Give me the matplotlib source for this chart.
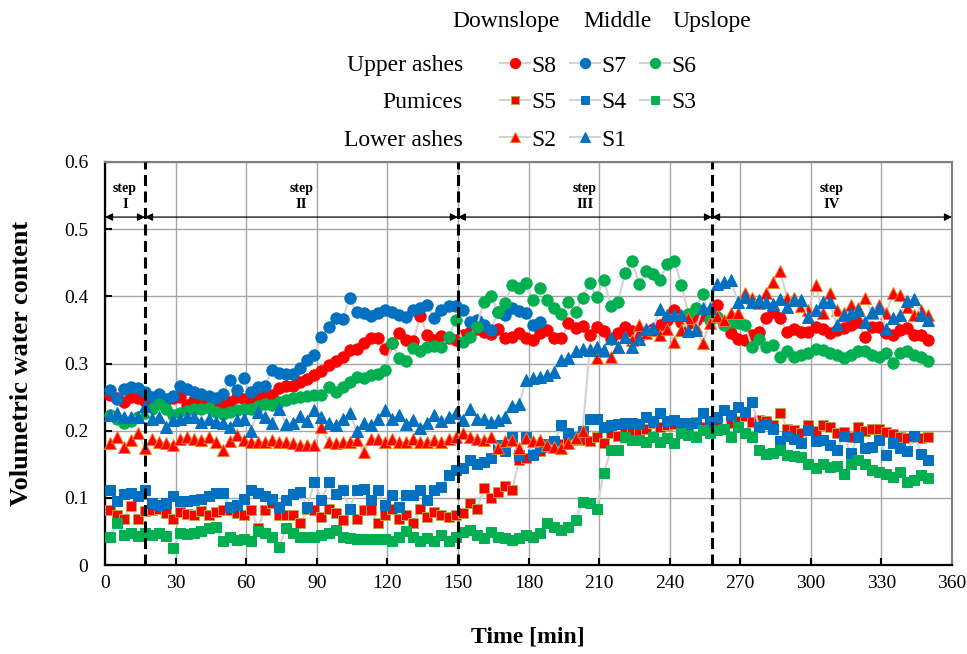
import numpy as np
import matplotlib
matplotlib.use("Agg")
import matplotlib.pyplot as plt
from matplotlib.lines import Line2D

plt.rcParams['font.family'] = ['Liberation Serif', 'DejaVu Serif']

# sampling times (min), one reading every 3 minutes
minutes = np.arange(2, 351, 3)

# upper ashes (circles)
s8 = [0.253, 0.248, 0.243, 0.250, 0.248, 0.244, 0.240, 0.242, 0.245, 0.248,
      0.250, 0.238, 0.245, 0.248, 0.238, 0.240, 0.239, 0.243, 0.250, 0.247,
      0.245, 0.253, 0.253, 0.253, 0.264, 0.266, 0.266, 0.273, 0.277, 0.283,
      0.289, 0.298, 0.303, 0.310, 0.320, 0.322, 0.330, 0.338, 0.338, 0.322,
      0.330, 0.345, 0.335, 0.333, 0.371, 0.342, 0.335, 0.341, 0.338, 0.335,
      0.342, 0.347, 0.352, 0.347, 0.344, 0.352, 0.338, 0.340, 0.345, 0.338,
      0.335, 0.345, 0.350, 0.338, 0.338, 0.360, 0.353, 0.356, 0.342, 0.354,
      0.348, 0.337, 0.345, 0.354, 0.349, 0.340, 0.347, 0.352, 0.357, 0.365,
      0.380, 0.362, 0.358, 0.365, 0.372, 0.374, 0.387, 0.360, 0.345, 0.336,
      0.335, 0.342, 0.347, 0.367, 0.377, 0.367, 0.347, 0.352, 0.347, 0.347,
      0.355, 0.352, 0.345, 0.350, 0.353, 0.357, 0.362, 0.340, 0.355, 0.355,
      0.345, 0.342, 0.350, 0.353, 0.342, 0.342, 0.335]
s7 = [0.260, 0.247, 0.262, 0.265, 0.263, 0.258, 0.250, 0.255, 0.247, 0.252,
      0.267, 0.262, 0.258, 0.255, 0.252, 0.249, 0.254, 0.275, 0.260, 0.278,
      0.258, 0.265, 0.267, 0.290, 0.286, 0.285, 0.284, 0.294, 0.305, 0.312,
      0.339, 0.355, 0.367, 0.366, 0.398, 0.377, 0.375, 0.371, 0.375, 0.380,
      0.377, 0.372, 0.369, 0.380, 0.382, 0.387, 0.367, 0.380, 0.385, 0.386,
      0.380, 0.362, 0.365, 0.358, 0.350, 0.377, 0.372, 0.382, 0.378, 0.375,
      0.357, 0.362] + [np.nan] * 55
s6 = [0.224, 0.218, 0.211, 0.215, 0.220, 0.226, 0.233, 0.240, 0.232, 0.223,
      0.226, 0.230, 0.232, 0.232, 0.234, 0.228, 0.225, 0.228, 0.231, 0.232,
      0.233, 0.236, 0.240, 0.238, 0.242, 0.246, 0.248, 0.250, 0.252, 0.253,
      0.253, 0.265, 0.258, 0.265, 0.273, 0.280, 0.278, 0.283, 0.284, 0.290,
      0.330, 0.308, 0.303, 0.323, 0.318, 0.324, 0.326, 0.325, 0.340, 0.365,
      0.332, 0.340, 0.355, 0.392, 0.400, 0.377, 0.390, 0.417, 0.412, 0.420,
      0.394, 0.413, 0.395, 0.382, 0.374, 0.391, 0.377, 0.398, 0.420, 0.399,
      0.425, 0.386, 0.392, 0.434, 0.452, 0.419, 0.438, 0.433, 0.425, 0.448,
      0.453, 0.417, 0.374, 0.382, 0.404, 0.365, 0.369, 0.357, 0.362, 0.360,
      0.357, 0.325, 0.336, 0.324, 0.327, 0.310, 0.318, 0.310, 0.312, 0.315,
      0.322, 0.320, 0.316, 0.313, 0.308, 0.313, 0.318, 0.318, 0.313, 0.310,
      0.315, 0.301, 0.315, 0.318, 0.313, 0.310, 0.304]

# pumices (squares)
s5 = [0.082, 0.074, 0.069, 0.088, 0.069, 0.080, 0.082, 0.084, 0.078, 0.069,
      0.079, 0.076, 0.074, 0.080, 0.074, 0.079, 0.082, 0.082, 0.077, 0.074,
      0.082, 0.055, 0.082, 0.092, 0.074, 0.074, 0.074, 0.062, 0.084, 0.082,
      0.072, 0.084, 0.077, 0.067, 0.084, 0.069, 0.082, 0.082, 0.062, 0.074,
      0.084, 0.069, 0.074, 0.062, 0.084, 0.072, 0.079, 0.075, 0.072, 0.074,
      0.077, 0.093, 0.083, 0.114, 0.100, 0.108, 0.118, 0.111, 0.156, 0.159,
      0.166, 0.170, 0.175, 0.178, 0.180, 0.183, 0.186, 0.186, 0.184, 0.190,
      0.182, 0.196, 0.192, 0.198, 0.201, 0.198, 0.203, 0.212, 0.205, 0.208,
      0.210, 0.205, 0.208, 0.213, 0.205, 0.211, 0.206, 0.203, 0.212, 0.215,
      0.222, 0.213, 0.216, 0.215, 0.208, 0.227, 0.203, 0.201, 0.196, 0.208,
      0.200, 0.208, 0.206, 0.197, 0.198, 0.191, 0.206, 0.200, 0.202, 0.202,
      0.198, 0.195, 0.190, 0.189, 0.191, 0.189, 0.190]
s4 = [0.111, 0.095, 0.105, 0.107, 0.102, 0.112, 0.092, 0.089, 0.092, 0.102,
      0.095, 0.095, 0.097, 0.099, 0.102, 0.107, 0.107, 0.087, 0.090, 0.099,
      0.112, 0.107, 0.102, 0.099, 0.087, 0.097, 0.105, 0.109, 0.087, 0.124,
      0.097, 0.123, 0.105, 0.111, 0.084, 0.112, 0.113, 0.097, 0.111, 0.089,
      0.104, 0.087, 0.104, 0.104, 0.111, 0.097, 0.111, 0.116, 0.134, 0.141,
      0.144, 0.156, 0.151, 0.154, 0.159, 0.178, 0.169, 0.190, 0.164, 0.190,
      0.164, 0.175, 0.180, 0.185, 0.208, 0.196, 0.190, 0.199, 0.218, 0.218,
      0.206, 0.208, 0.210, 0.212, 0.212, 0.210, 0.221, 0.215, 0.226, 0.215,
      0.216, 0.212, 0.211, 0.211, 0.227, 0.215, 0.220, 0.231, 0.223, 0.235,
      0.228, 0.243, 0.206, 0.210, 0.202, 0.184, 0.192, 0.188, 0.182, 0.201,
      0.184, 0.186, 0.178, 0.171, 0.192, 0.167, 0.190, 0.174, 0.176, 0.186,
      0.164, 0.181, 0.174, 0.169, 0.192, 0.166, 0.156]
s3 = [0.042, 0.062, 0.045, 0.047, 0.043, 0.047, 0.044, 0.047, 0.043, 0.025,
      0.047, 0.046, 0.047, 0.050, 0.055, 0.057, 0.035, 0.042, 0.037, 0.038,
      0.035, 0.050, 0.047, 0.042, 0.027, 0.055, 0.047, 0.042, 0.042, 0.042,
      0.045, 0.047, 0.052, 0.042, 0.040, 0.038, 0.038, 0.039, 0.038, 0.038,
      0.035, 0.042, 0.050, 0.042, 0.035, 0.040, 0.035, 0.045, 0.035, 0.042,
      0.049, 0.052, 0.045, 0.040, 0.049, 0.042, 0.040, 0.037, 0.040, 0.045,
      0.042, 0.047, 0.062, 0.057, 0.052, 0.057, 0.067, 0.094, 0.092, 0.084,
      0.137, 0.171, 0.171, 0.191, 0.186, 0.186, 0.183, 0.191, 0.183, 0.189,
      0.181, 0.196, 0.193, 0.190, 0.201, 0.196, 0.201, 0.203, 0.191, 0.206,
      0.196, 0.191, 0.171, 0.166, 0.167, 0.171, 0.164, 0.162, 0.161, 0.151,
      0.144, 0.151, 0.146, 0.148, 0.136, 0.151, 0.156, 0.150, 0.141, 0.139,
      0.136, 0.131, 0.139, 0.124, 0.126, 0.134, 0.129]

# lower ashes (triangles)
s2 = [0.181, 0.191, 0.176, 0.186, 0.196, 0.174, 0.188, 0.183, 0.181, 0.179,
      0.188, 0.191, 0.188, 0.186, 0.191, 0.183, 0.171, 0.185, 0.193, 0.186,
      0.183, 0.183, 0.183, 0.186, 0.183, 0.183, 0.181, 0.179, 0.179, 0.179,
      0.206, 0.183, 0.181, 0.183, 0.183, 0.186, 0.168, 0.188, 0.188, 0.183,
      0.188, 0.183, 0.183, 0.188, 0.183, 0.183, 0.186, 0.183, 0.188, 0.191,
      0.196, 0.191, 0.188, 0.186, 0.190, 0.174, 0.184, 0.186, 0.174, 0.189,
      0.184, 0.186, 0.179, 0.176, 0.174, 0.181, 0.189, 0.199, 0.322, 0.308,
      0.318, 0.310, 0.325, 0.340, 0.335, 0.357, 0.345, 0.350, 0.342, 0.352,
      0.332, 0.350, 0.367, 0.355, 0.330, 0.360, 0.370, 0.365, 0.375, 0.375,
      0.405, 0.397, 0.390, 0.405, 0.422, 0.437, 0.397, 0.397, 0.385, 0.380,
      0.417, 0.375, 0.405, 0.380, 0.375, 0.387, 0.382, 0.397, 0.375, 0.387,
      0.375, 0.405, 0.402, 0.384, 0.372, 0.380, 0.372]
s1 = [0.223, 0.226, 0.221, 0.220, 0.221, 0.236, 0.218, 0.221, 0.206, 0.216,
      0.218, 0.221, 0.221, 0.213, 0.218, 0.213, 0.211, 0.206, 0.216, 0.218,
      0.200, 0.228, 0.220, 0.212, 0.233, 0.210, 0.211, 0.222, 0.215, 0.231,
      0.221, 0.211, 0.208, 0.218, 0.226, 0.199, 0.212, 0.208, 0.218, 0.231,
      0.218, 0.223, 0.210, 0.216, 0.204, 0.211, 0.223, 0.215, 0.221, 0.226,
      0.216, 0.233, 0.218, 0.218, 0.213, 0.216, 0.221, 0.236, 0.240, 0.275,
      0.278, 0.280, 0.283, 0.288, 0.305, 0.308, 0.318, 0.322, 0.320, 0.325,
      0.320, 0.338, 0.325, 0.339, 0.325, 0.336, 0.352, 0.353, 0.381, 0.372,
      0.372, 0.372, 0.349, 0.350, 0.382, 0.382, 0.419, 0.422, 0.424, 0.392,
      0.399, 0.392, 0.394, 0.391, 0.389, 0.396, 0.384, 0.395, 0.394, 0.369,
      0.379, 0.391, 0.391, 0.357, 0.372, 0.375, 0.379, 0.362, 0.377, 0.382,
      0.352, 0.368, 0.372, 0.393, 0.396, 0.372, 0.365]

step_bounds = [0, 17, 150, 258, 360]
step_names = ['I', 'II', 'III', 'IV']

red, blue, green = '#FF0000', '#0070C0', '#00B050'
link = '#D3D3D3'

# name, values, marker, face, edge, size
series = [
    ('S8', s8, 'o', red, red, 8.2),
    ('S7', s7, 'o', blue, blue, 8.2),
    ('S6', s6, 'o', green, green, 8.2),
    ('S5', s5, 's', red, '#B8A848', 6.6),
    ('S4', s4, 's', blue, blue, 6.6),
    ('S3', s3, 's', green, green, 6.6),
    ('S2', s2, '^', red, '#F08020', 8.4),
    ('S1', s1, '^', blue, blue, 8.4),
]
style = {name: (m, fc, ec, ms) for name, _, m, fc, ec, ms in series}

W, H = 967, 654
fig = plt.figure(figsize=(W / 100, H / 100), dpi=100)
ax = fig.add_axes([105 / W, 1 - 565 / H, 847 / W, 403 / H])

for i, (name, vals, m, fc, ec, ms) in enumerate(series):
    ax.plot(minutes, vals, color=link, lw=1.5, marker=m, ms=ms,
            mfc=fc, mec=ec, mew=0.7, zorder=3 + i, clip_on=False)

# step boundaries
for b in step_bounds[1:-1]:
    ax.axvline(b, color='black', lw=2.2, ls=(0, (3.6, 1.8)), zorder=20)

arrow_y = 0.518
for k, name in enumerate(step_names):
    x0, x1 = step_bounds[k], step_bounds[k + 1]
    ax.annotate('', xy=(x1, arrow_y), xytext=(x0, arrow_y),
                arrowprops=dict(arrowstyle='<|-|>', color='black', lw=0.9,
                                mutation_scale=11, shrinkA=0, shrinkB=0),
                zorder=21)
    xm = (x0 + x1) / 2
    ax.text(xm, 0.561, 'step', ha='center', va='center', fontsize=10,
            fontweight='bold', zorder=21)
    ax.text(xm, 0.536, name, ha='center', va='center', fontsize=10.5,
            fontweight='bold', zorder=21)

ax.set_xlim(0, 360)
ax.set_ylim(0, 0.6)
ax.set_xticks(np.arange(0, 361, 30))
ax.set_yticks(np.arange(0, 0.61, 0.1))
ax.set_yticklabels(['0', '0.1', '0.2', '0.3', '0.4', '0.5', '0.6'])
ax.grid(True, color='#A6A6A6', lw=1.0)
ax.set_axisbelow(True)
ax.tick_params(direction='in', length=5, width=1.5, labelsize=14)
ax.tick_params(axis='y', pad=12)
ax.tick_params(axis='x', pad=7)
for side in ['left', 'bottom']:
    ax.spines[side].set_color('black')
    ax.spines[side].set_linewidth(1.6)
for side in ['top', 'right']:
    ax.spines[side].set_color('#7F7F7F')
    ax.spines[side].set_linewidth(1.5)

fig.text(528 / W, 1 - 637 / H, 'Time [min]', ha='center', va='center',
         fontsize=17, fontweight='bold')
fig.text(22 / W, 1 - 363 / H, 'Volumetric water content', ha='center',
         va='center', rotation=90, fontsize=19, fontweight='bold')

# custom legend block
col_heads = ['Downslope', 'Middle', 'Upslope']
col_head_x = [506, 618, 712]
for txt, px in zip(col_heads, col_head_x):
    fig.text(px / W, 1 - 27 / H, txt, ha='center', va='baseline', fontsize=17)

legend_rows = [('Upper ashes', ['S8', 'S7', 'S6']),
               ('Pumices', ['S5', 'S4', 'S3']),
               ('Lower ashes', ['S2', 'S1'])]
row_base = [71.5, 108.3, 146.5]
row_mid = [63.3, 99.5, 137.0]
marker_x = [515, 585, 655]
for (label, names), yb, ym in zip(legend_rows, row_base, row_mid):
    fig.text(463 / W, 1 - yb / H, label, ha='right', va='baseline', fontsize=17)
    for name, mx in zip(names, marker_x):
        m, fc, ec, ms = style[name]
        fig.add_artist(Line2D([(mx - 15) / W, (mx + 15) / W],
                              [1 - ym / H, 1 - ym / H], color=link, lw=1.5,
                              transform=fig.transFigure))
        fig.add_artist(Line2D([mx / W], [1 - ym / H], marker=m, ms=ms * 0.9,
                              mfc=fc, mec=ec, mew=0.7, ls='none',
                              transform=fig.transFigure))
        fig.text((mx + 16) / W, 1 - yb / H, name, ha='left', va='baseline',
                 fontsize=17)

fig.savefig('out.png', dpi=100)
